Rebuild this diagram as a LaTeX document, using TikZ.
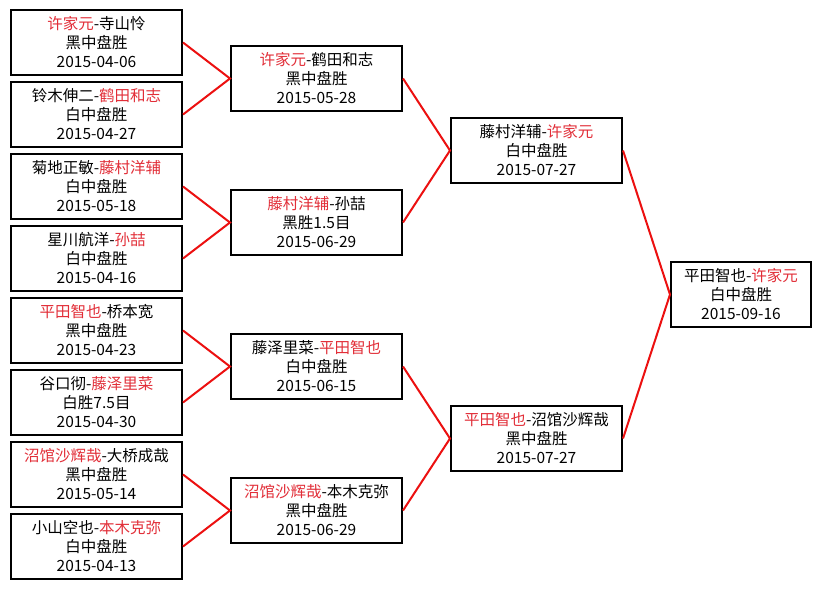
\documentclass[tikz,border=0pt]{standalone}
\usepackage{fontspec}
\setmainfont{Noto Sans CJK SC}
\usepackage{xcolor}
\usetikzlibrary{positioning}
\definecolor{winred}{RGB}{226,46,56}
\definecolor{linkred}{RGB}{236,16,16}

\begin{document}
\begin{tikzpicture}[x=1pt, y=-1pt,
    game/.style={draw=black, line width=2pt, fill=white, minimum width=171pt, minimum height=65pt,
                 inner sep=0pt, align=center, font=\fontsize{15.5}{19}\selectfont},
    final/.style={game, minimum width=140pt},
    link/.style={draw=linkred, line width=2pt}]
        \useasboundingbox (0,0) rectangle (820,589);
        \fill[white] (0,0) rectangle (820,589);

        % First round
        \node[game] (a1) at (96.5,42.5) {\textcolor{winred}{许家元}-寺山怜\\黑中盘胜\\2015-04-06};
        \node[game] (a2) at (96.5,114.5) {铃木伸二-\textcolor{winred}{鹤田和志}\\白中盘胜\\2015-04-27};
        \node[game] (a3) at (96.5,186.5) {菊地正敏-\textcolor{winred}{藤村洋辅}\\白中盘胜\\2015-05-18};
        \node[game] (a4) at (96.5,258.5) {星川航洋-\textcolor{winred}{孙喆}\\白中盘胜\\2015-04-16};
        \node[game] (a5) at (96.5,330.5) {\textcolor{winred}{平田智也}-桥本宽\\黑中盘胜\\2015-04-23};
        \node[game] (a6) at (96.5,402.5) {谷口彻-\textcolor{winred}{藤泽里菜}\\白胜7.5目\\2015-04-30};
        \node[game] (a7) at (96.5,474.5) {\textcolor{winred}{沼馆沙辉哉}-大桥成哉\\黑中盘胜\\2015-05-14};
        \node[game] (a8) at (96.5,546.5) {小山空也-\textcolor{winred}{本木克弥}\\白中盘胜\\2015-04-13};

        % Second round
        \node[game] (b1) at (316.5,78.5) {\textcolor{winred}{许家元}-鹤田和志\\黑中盘胜\\2015-05-28};
        \node[game] (b2) at (316.5,222.5) {\textcolor{winred}{藤村洋辅}-孙喆\\黑胜1.5目\\2015-06-29};
        \node[game] (b3) at (316.5,366.5) {藤泽里菜-\textcolor{winred}{平田智也}\\白中盘胜\\2015-06-15};
        \node[game] (b4) at (316.5,510.5) {\textcolor{winred}{沼馆沙辉哉}-本木克弥\\黑中盘胜\\2015-06-29};

        % Semifinals
        \node[game] (c1) at (536.5,150.5) {藤村洋辅-\textcolor{winred}{许家元}\\白中盘胜\\2015-07-27};
        \node[game] (c2) at (536.5,438.5) {\textcolor{winred}{平田智也}-沼馆沙辉哉\\黑中盘胜\\2015-07-27};

        % Final
        \node[final] (d1) at (741,294.5) {平田智也-\textcolor{winred}{许家元}\\白中盘胜\\2015-09-16};

        % Links
        \draw[link] (a1.east) -- (b1.west) -- (a2.east);
        \draw[link] (a3.east) -- (b2.west) -- (a4.east);
        \draw[link] (a5.east) -- (b3.west) -- (a6.east);
        \draw[link] (a7.east) -- (b4.west) -- (a8.east);
        \draw[link] (b1.east) -- (c1.west) -- (b2.east);
        \draw[link] (b3.east) -- (c2.west) -- (b4.east);
        \draw[link] (c1.east) -- (d1.west) -- (c2.east);
    \end{tikzpicture}
\end{document}
